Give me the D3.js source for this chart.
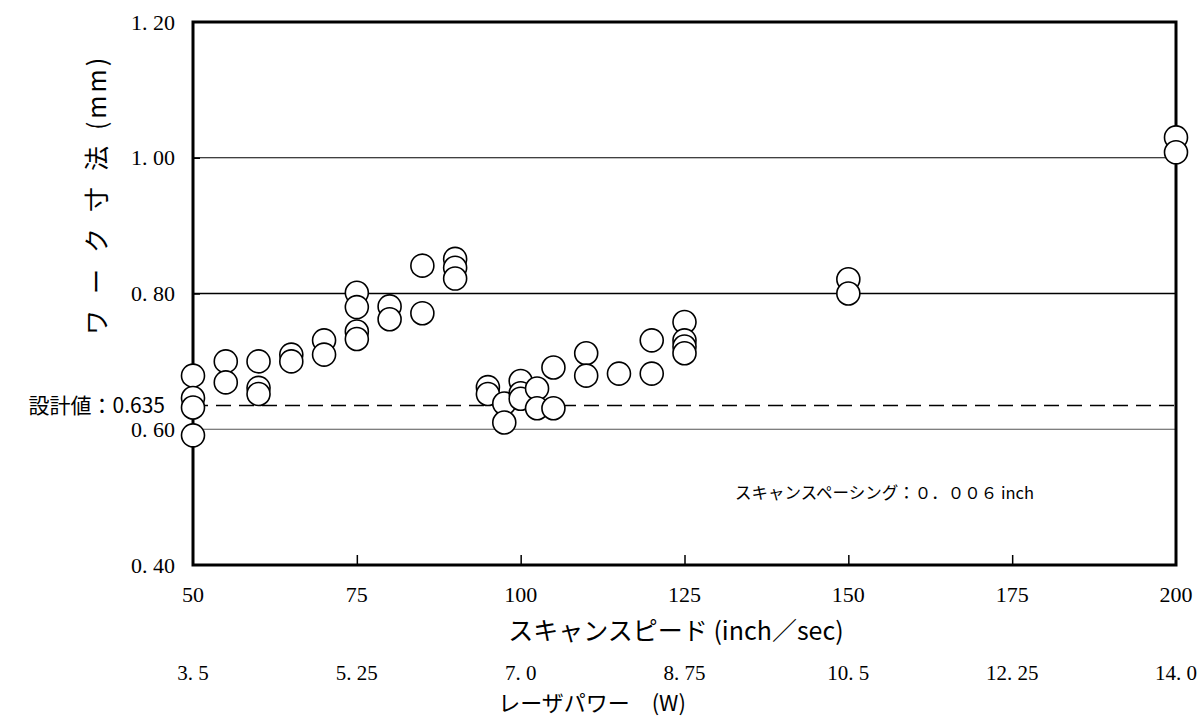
<!DOCTYPE html>
<html><head><meta charset="utf-8">
<script src="https://cdn.jsdelivr.net/npm/d3@7"></script>
<style>body{margin:0;background:#fff}svg{display:block}</style>
</head><body><svg id="c" width="1203" height="716"></svg>
<script>
// ---- data ----
const speedTicks = [50, 75, 100, 125, 150, 175, 200];
const speedTickLabels = ["50", "75", "100", "125", "150", "175", "200"];
const powerTicks = [3.5, 5.25, 7.0, 8.75, 10.5, 12.25, 14.0];
const powerTickLabels = ["3. 5", "5. 25", "7. 0", "8. 75", "10. 5", "12. 25", "14. 0"];
const sizeTicks = [0.40, 0.60, 0.80, 1.00, 1.20];
const sizeTickLabels = ["0. 40", "0. 60", "0. 80", "1. 00", "1. 20"];
const gridValues = [0.60, 0.80, 1.00];
const designValue = 0.635;
const pointSpeed = [50, 50, 50, 50, 55, 55, 60, 60, 60, 65, 65, 70, 70,
  75, 75, 75, 75, 80, 80, 85, 85, 90, 90, 90, 95, 95, 97.5, 97.5,
  100, 100, 100, 102.5, 102.5, 105, 105, 110, 110, 115, 120, 120,
  125, 125, 125, 125, 150, 150, 200, 200];
const pointSize = [0.679, 0.646, 0.632, 0.591, 0.700, 0.669, 0.700, 0.661, 0.652, 0.710, 0.700, 0.731, 0.710,
  0.801, 0.780, 0.744, 0.733, 0.781, 0.762, 0.841, 0.771, 0.851, 0.838, 0.822, 0.662, 0.652, 0.638, 0.610,
  0.671, 0.653, 0.645, 0.660, 0.631, 0.691, 0.631, 0.712, 0.679, 0.682, 0.731, 0.682,
  0.758, 0.731, 0.722, 0.712, 0.821, 0.800, 1.030, 1.008];

// ---- layout ----
const L = 193, R = 1176, T = 22, B = 565;
const svg = d3.select("#c");
const x = d3.scaleLinear().domain([50, 200]).range([L, R]);
const xp = d3.scaleLinear().domain([3.5, 14.0]).range([L, R]);
const y = d3.scaleLinear().domain([0.40, 1.20]).range([B, T]);
const serif = "'Liberation Serif','DejaVu Serif',serif";
const jp = "'Noto Sans CJK JP','Noto Sans CJK SC',sans-serif";

// gridlines
svg.selectAll("line.grid").data(gridValues).join("line")
  .attr("x1", L).attr("x2", R).attr("y1", d => y(d)).attr("y2", d => y(d))
  .attr("stroke", d => d === 0.60 ? "#555" : "#000")
  .attr("stroke-width", d => d === 0.80 ? 1.5 : 1.1);

// design value dashed line
svg.append("line").attr("x1", L).attr("x2", R)
  .attr("y1", y(designValue)).attr("y2", y(designValue))
  .attr("stroke", "#000").attr("stroke-width", 1.5).attr("stroke-dasharray", "15,8");

// axes (inner ticks)
const xAxis = d3.axisTop(x).tickValues(speedTicks.slice(1, -1)).tickSize(10).tickFormat("");
svg.append("g").attr("transform", `translate(0,${B})`).call(xAxis)
  .call(g => g.select(".domain").remove())
  .selectAll("line").attr("stroke", "#000").attr("stroke-width", 1.5);
const yAxis = d3.axisRight(y).tickValues(sizeTicks.slice(1, -1)).tickSize(7).tickFormat("");
svg.append("g").attr("transform", `translate(${L},0)`).call(yAxis)
  .call(g => g.select(".domain").remove())
  .selectAll("line").attr("stroke", "#000").attr("stroke-width", 1.5);

// frame
svg.append("rect").attr("x", L).attr("y", T).attr("width", R - L).attr("height", B - T)
  .attr("fill", "none").attr("stroke", "#000").attr("stroke-width", 3);

// y tick labels
svg.selectAll("text.yl").data(sizeTicks).join("text")
  .attr("x", 175).attr("y", d => y(d)).attr("dy", "0.35em")
  .attr("text-anchor", "end").attr("font-family", serif).attr("font-size", 22)
  .text((d, i) => sizeTickLabels[i]);

// x tick labels
svg.selectAll("text.xl").data(speedTicks).join("text")
  .attr("x", d => x(d)).attr("y", 594).attr("dy", "0.35em")
  .attr("text-anchor", "middle").attr("font-family", serif).attr("font-size", 22)
  .text((d, i) => speedTickLabels[i]);
svg.selectAll("text.pl").data(powerTicks).join("text")
  .attr("x", d => xp(d)).attr("y", 673).attr("dy", "0.35em")
  .attr("text-anchor", "middle").attr("font-family", serif).attr("font-size", 21)
  .text((d, i) => powerTickLabels[i]);

// axis titles
svg.append("text").attr("x", 676).attr("y", 631).attr("dy", "0.35em")
  .attr("text-anchor", "middle").attr("font-family", jp).attr("font-size", 25)
  .text("スキャンスピード (inch／sec)");
svg.append("text").attr("x", 592).attr("y", 703).attr("dy", "0.35em")
  .attr("text-anchor", "middle").attr("font-family", jp).attr("font-size", 22)
  .text("レーザパワー　(W)");
const yt = svg.append("text").attr("transform", "translate(97,195) rotate(-90)")
  .attr("dy", "0.35em").attr("text-anchor", "middle")
  .attr("font-family", jp).attr("font-size", 25);
yt.append("tspan").attr("letter-spacing", 16).text("ワーク寸法");
yt.append("tspan").attr("letter-spacing", 3).text("(mm)");

// annotations
svg.append("text").attr("x", 165).attr("y", y(designValue)).attr("dy", "0.35em")
  .attr("text-anchor", "end").attr("font-family", jp).attr("font-size", 21)
  .text("設計値：0.635");
svg.append("text").attr("x", 735).attr("y", 493).attr("dy", "0.35em")
  .attr("font-family", jp).attr("font-size", 16.5)
  .text("スキャンスペーシング：０．００６ inch");

// points
svg.selectAll("circle.pt").data(pointSpeed).join("circle")
  .attr("cx", d => x(d)).attr("cy", (d, i) => y(pointSize[i])).attr("r", 11.5)
  .attr("fill", "#fff").attr("stroke", "#000").attr("stroke-width", 1.6);
</script></body></html>
